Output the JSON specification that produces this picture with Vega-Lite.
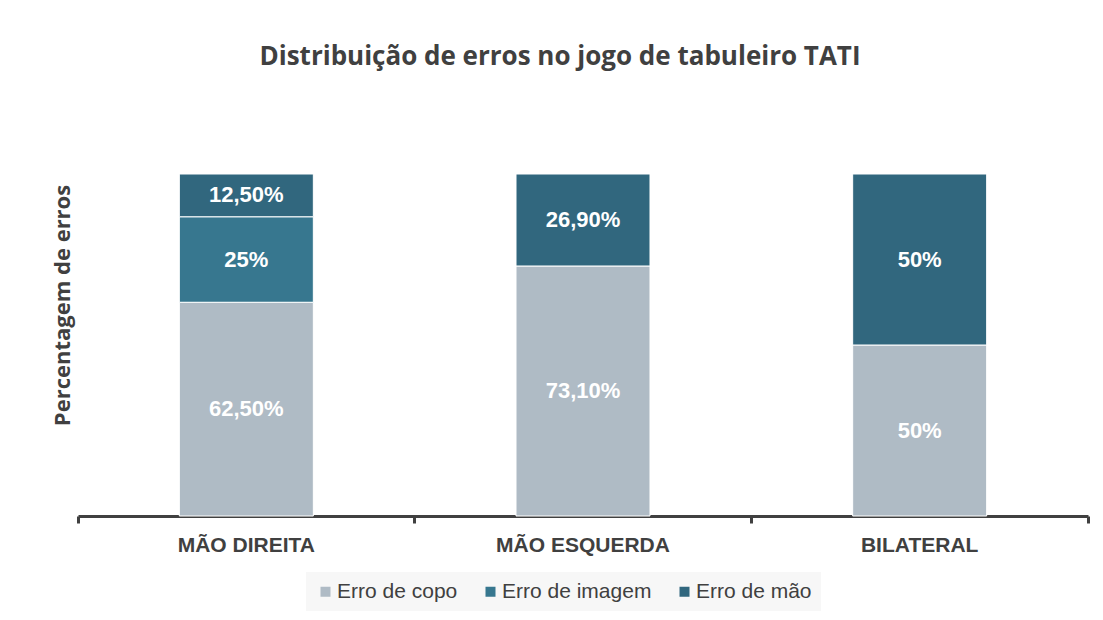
{
  "$schema": "https://vega.github.io/schema/vega-lite/v6.json",
  "autosize": {"type": "none"},
  "width": 1010,
  "height": 342,
  "padding": {"left": 78, "top": 174, "right": 15, "bottom": 104},
  "background": "white",
  "config": {"view": {"stroke": null}},
  "title": {
    "text": "Distribuição de erros no jogo de tabuleiro TATI",
    "font": "Open Sans",
    "fontSize": 26,
    "fontWeight": "bold",
    "color": "#404040",
    "anchor": "middle",
    "frame": "group",
    "dx": -23,
    "offset": 104
  },
  "data": {
    "values": [
      {"lado": "MÃO DIREITA", "tipo": "Erro de copo", "ordem": 1, "valor": 62.5, "rotulo": "62,50%"},
      {"lado": "MÃO DIREITA", "tipo": "Erro de imagem", "ordem": 2, "valor": 25, "rotulo": "25%"},
      {"lado": "MÃO DIREITA", "tipo": "Erro de mão", "ordem": 3, "valor": 12.5, "rotulo": "12,50%"},
      {"lado": "MÃO ESQUERDA", "tipo": "Erro de copo", "ordem": 1, "valor": 73.1, "rotulo": "73,10%"},
      {"lado": "MÃO ESQUERDA", "tipo": "Erro de mão", "ordem": 3, "valor": 26.9, "rotulo": "26,90%"},
      {"lado": "BILATERAL", "tipo": "Erro de copo", "ordem": 1, "valor": 50, "rotulo": "50%"},
      {"lado": "BILATERAL", "tipo": "Erro de mão", "ordem": 3, "valor": 50, "rotulo": "50%"}
    ]
  },
  "transform": [
    {"stack": "valor", "groupby": ["lado"], "sort": [{"field": "ordem", "order": "ascending"}], "as": ["y0", "y1"]},
    {"calculate": "(datum.y0 + datum.y1) / 2", "as": "ymeio"}
  ],
  "encoding": {
    "x": {
      "field": "lado",
      "type": "nominal",
      "sort": ["MÃO DIREITA", "MÃO ESQUERDA", "BILATERAL"],
      "scale": {"paddingInner": 0, "paddingOuter": 0},
      "axis": {
        "title": null,
        "labelAngle": 0,
        "labelFont": "Liberation Sans",
        "labelFontSize": 21,
        "labelFontWeight": "bold",
        "labelColor": "#404040",
        "labelPadding": 11,
        "domainColor": "#404040",
        "domainWidth": 3,
        "tickColor": "#404040",
        "tickWidth": 3,
        "tickSize": 7,
        "bandPosition": 1,
        "tickExtra": true,
        "grid": false
      }
    }
  },
  "layer": [
    {
      "mark": {"type": "bar", "width": {"band": 0.398}, "stroke": "white", "strokeWidth": 1},
      "encoding": {
        "y": {
          "field": "y0",
          "type": "quantitative",
          "scale": {"domain": [0, 100], "nice": false},
          "axis": {
            "title": "Percentagem de erros",
            "titleFont": "Open Sans",
            "titleFontSize": 22,
            "titleFontWeight": "bold",
            "titleColor": "#404040",
            "titleAngle": -90,
            "titleX": -16,
            "titleY": 131,
            "titleBaseline": "middle",
            "labels": false,
            "ticks": false,
            "domain": false,
            "grid": false
          }
        },
        "y2": {"field": "y1"},
        "color": {
          "field": "tipo",
          "type": "nominal",
          "scale": {
            "domain": ["Erro de copo", "Erro de imagem", "Erro de mão"],
            "range": ["#afbbc5", "#37778f", "#31677e"]
          },
          "legend": {
            "title": null,
            "orient": "none",
            "direction": "horizontal",
            "legendX": 228,
            "legendY": 398,
            "fillColor": "#f7f7f7",
            "padding": 9,
            "symbolType": "square",
            "symbolSize": 100,
            "symbolStrokeWidth": 0,
            "labelFont": "Liberation Sans",
            "labelFontSize": 21,
            "labelColor": "#404040",
            "labelOffset": 1,
            "columnPadding": 22
          }
        }
      }
    },
    {
      "mark": {"type": "text", "color": "white", "font": "Liberation Sans", "fontSize": 22, "fontWeight": "bold", "baseline": "middle"},
      "encoding": {
        "y": {"field": "ymeio", "type": "quantitative"},
        "text": {"field": "rotulo"}
      }
    }
  ]
}
